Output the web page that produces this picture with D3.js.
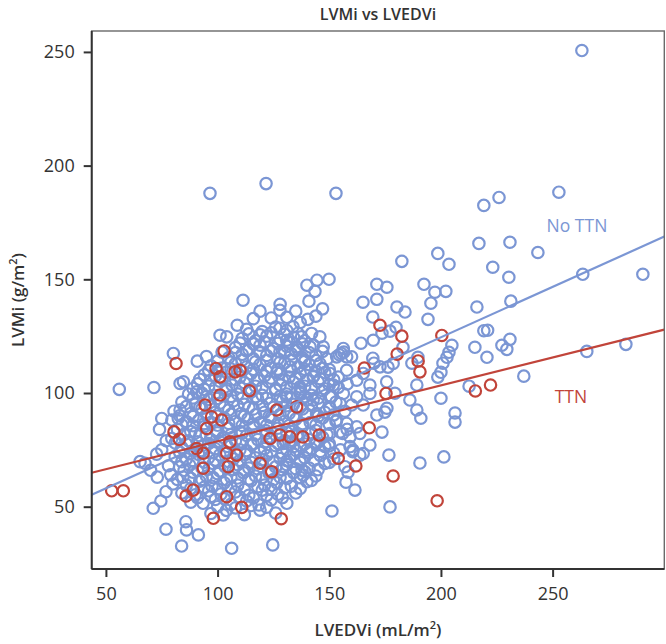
<!DOCTYPE html>
<html><head><meta charset="utf-8">
<script src="https://cdn.jsdelivr.net/npm/d3@7"></script>
<style>body{margin:0;background:#fff}svg{display:block}</style>
</head><body><svg id="c" width="666" height="644"></svg>
<script>
const xTicks = [50, 100, 150, 200, 250];
const yTicks = [50, 100, 150, 200, 250];
const groups = ["No TTN", "TTN"];

// No TTN (blue) points: [LVEDVi, LVMi]
const noTtnOuter = [
[263.1,250.6],[96.6,187.8],[121.7,192.1],[153.0,187.8],[252.8,188.3],[226.0,186.0],[219.2,182.5],[217.0,165.8],[198.6,161.4],[203.6,156.6],
[182.5,157.9],[149.9,150.0],[144.5,149.6],[140.0,147.4],[143.6,144.7],[140.9,140.4],[171.3,147.8],[175.8,146.5],[171.3,141.2],[165.1,139.9],
[192.4,147.8],[197.3,144.3],[202.2,144.7],[195.5,139.5],[180.3,137.8],[183.9,135.6],[169.5,133.4],[194.2,132.4],[216.1,137.8],[144.0,133.8],
[140.4,132.4],[131.0,133.3],[179.9,128.9],[177.2,127.2],[173.6,126.3],[164.2,121.9],[183.0,120.1],[204.9,121.0],[203.6,117.9],[202.7,115.7],
[200.9,113.1],[200.0,109.1],[198.6,107.0],[215.2,120.1],[189.7,115.7],[187.0,113.1],[176.3,111.4],[169.5,115.3],[170.0,113.1],[189.2,103.5],
[212.6,103.0],[230.9,166.3],[243.4,161.8],[223.2,155.3],[230.4,150.9],[263.5,152.2],[290.4,152.2],[231.3,140.4],[220.9,127.6],[219.2,127.4],
[230.9,123.6],[227.3,121.0],[229.5,119.2],[220.6,115.7],[265.3,118.3],[282.8,121.4],[237.1,107.4],
[179.4,99.9],[186.1,96.9],[189.2,92.5],[191.0,88.9],[200.0,97.7],[206.3,91.2],[206.3,87.2],[173.6,82.8],[174.9,91.6],
[175.8,93.3],[171.3,90.3],[168.2,77.1],[163.7,72.7],[160.6,74.9],[158.4,65.2],[157.5,60.8],[161.5,57.3],[176.7,72.7],[190.6,69.2],
[201.3,71.9],[177.2,49.9],[151.2,48.1],[149.9,76.7],[137.8,66.1],[138.3,63.9]
];
const noTtnLeft = [
[56.0,101.6],[71.5,102.4],[80.2,117.4],[90.9,114.0],[101.1,125.4],[104.1,124.7],[108.8,129.8],[116.0,132.7],[111.4,140.8],[75.0,88.8],
[79.5,88.1],[82.4,88.8],[83.2,92.5],[83.2,104.2],[84.7,104.9],[90.6,100.5],[67.5,69.1],[72.7,73.1],[65.3,69.8],[76.9,56.6],
[71.2,49.3],[74.6,52.5],[76.9,40.1],[83.9,32.7],[85.8,43.4],[86.1,39.8],[91.4,37.6],[106.3,31.7],[124.7,33.2],[102.5,46.4],
[73,63],[70,66],[78,68],[75,75],[77,79],[74,84]
];
const noTtnMid = [
[127.9,136.4],[127.9,128.5],[133.8,129.1],[130.9,123.2],[137.6,124.7],[142.1,126.2],[145.8,124.7],[147.3,120.3],[141.4,120.3],[135.4,120.3],
[127.9,118.1],[139.1,114.4],[145.8,113.0],[132.4,111.5],[127.9,108.6],[142.8,107.1],[150.3,108.6],[157.8,110.0],[162.3,105.6],[151.8,103.5],
[136.9,102.7],[155.5,117.4],[154.5,116.8],[156.5,118.0],[153.3,115.9],[157.8,115.9],[156.3,119.6],[160.0,115.9],[169.7,123.2],[178.6,113.0],
[172.7,111.5],[175.7,104.9],[168.2,103.5],[165.2,108.6],
[130.9,98.3],[136.9,99.8],[142.8,96.9],[150.3,98.3],[156.3,99.8],[162.3,98.3],[168.2,99.8],[154.8,95.4],[160.0,94.7],[165.2,94.7],
[150.3,93.2],[144.3,91.0],[153.3,88.1],[157.8,86.6],[162.3,85.1],[163.7,82.2],[159.3,80.7],[154.8,82.9],[150.3,82.2],[144.3,77.8],
[139.9,74.9],[133.9,76.4],[129.4,77.8],[132.4,72.0],[136.9,70.5],[129.4,67.6],[159.3,76.4],[160.5,74.2],[157.0,67.6],[165.2,73.4]
];
const noTtnCore = [
[97,47],[104,48.4],[112,46.5],[119,48.5],[126,47.2],
[88,52],[93.5,51.5],[99,53.2],[106,51],[113,52.5],[118.5,50.8],[124,53],[131,51.5],
[84,56],[90,55.2],[96,57],[101.5,55.5],[108,56.5],[114,55],[120,57.3],[127,55.5],[135,56],
[80,60],[86,59.5],[92,61.2],[97.5,59],[103,60.5],[109,59.5],[115,61.4],[121,59.5],[126.5,60.5],[133,59],[140,61],
[79,64],[84.5,63],[89,65.2],[95,63.5],[100,64.5],[106,63],[111.5,65],[117,63.5],[123,64.8],[128,63],[134,65],[144,63.5],
[83,67.5],[87.5,68.3],[93,67],[98,69],[103.5,67.5],[109,68.5],[114,67],[120,69.2],[126,67.5],[131,68.5],[141,67],[148,69],
[81,72],[86,71],[91.5,73],[96,71.5],[101,72.8],[107,71],[112.5,73],[117,71.5],[122,72.5],[128,71.2],[134,73],[139,71.5],[146,72.5],[152,71],
[84,76],[89.5,75],[94,77.2],[99,75.5],[104.5,76.5],[110,75],[115,77.3],[121,75.5],[126,76.8],[131,75],[137,77],[142,75.5],[148,76.5],[155,75],
[79.5,80],[87,79],[92,81.2],[97,79.5],[102.5,80.5],[108,79],[113,81.3],[118,79.5],[124,80.5],[130,79],[135.5,81],[141,79.5],[147,80.5],
[82,84],[88,83],[94,85.2],[99.5,83.5],[105,84.5],[110,83],[116,85],[121.5,83.5],[127,84.5],[133,83],[138,85.3],[144,83.5],[158,84],
[86,87.5],[91.5,88],[97,87],[103,89],[108,87.5],[113.5,88.5],[119,87],[124,89.2],[130,87.5],[135,88.5],[141.5,87],[147,89],[153,87.5],
[80.5,92],[88,91],[93,93.2],[99,91.5],[105,92.5],[110.5,91],[116,93],[121,91.5],[127,92.8],[132,91],[138,93],[148,91.5],[157,92],
[84,96],[90,95],[96,97.2],[101,95.5],[107,96.5],[112,95],[118,97.3],[123.5,95.5],[129,96.5],[134,95],[140,97],[145,95.5],[153,96],
[87,99.5],[93,100],[98.5,99],[104,101],[109,99.5],[115,100.5],[120,99],[126,101.2],[131,99.5],[137,100.5],[142,99],[147,101],
[91,104],[96,103],[101,105.2],[106.5,103.5],[112,104.5],[117,103],[123,105],[128,103.5],[134,104.8],[139,103],[145,105],[150,103.5],[158,104],
[94,108],[99,107.5],[104,109.2],[110,107],[115,108.5],[121,107.5],[126.5,109],[132,107],[137,108.5],[143,107.5],[148,109],[154,107],
[97,112],[102,111],[108,113],[113,111.5],[119,112.5],[124,111],[130,113.2],[136,111.5],[141,112.5],[147,111],
[95,116],[105,115.5],[111,117],[116,115],[122,116.5],[127,115],[133,117.2],[138,115.5],[144,116.5],[149,115],
[108,120],[114,119],[119,121],[125,119.5],[131,120.5],[136,119],[143,121],
[111,124],[117,123],[122,125],[128,123.5],[134,124.5],[139,123],
[113,128],[120,127],[126,129],[131,127.5],
[119,136],[124,133],[128,139],[135,136],[137,131],[147,137]
];
const noTtnCore2 = [
[100,50],[108,49.5],[115,50.5],[122,49.8],
[91,54],[97,54.5],[103,53.5],[110,54.2],[116,53.8],[122,55],[129,54],
[88,58],[94,58.5],[100,57.8],[106,58.6],[112,57.5],[118,58.8],[124,57.6],[130,58.3],[137,58],
[82,62],[88,62.5],[93,62],[98,62.8],[104,61.8],[109,62.6],[114,62.2],[120,62.8],[125,61.9],[131,62.4],[137,62.8],[142,61.5],
[85,66],[91,65.8],[96,66.5],[101,65.7],[107,66.4],[112,66],[118,66.6],[123,65.8],[129,66.2],[135,66.7],[139,65.5],[145,66.3],
[84,69.8],[89,70.3],[94,69.6],[99,70.5],[105,69.8],[110,70.4],[115,69.5],[120,70.6],[125,69.7],[131,70.2],[137,69.5],[143,70.3],[150,69.5],
[83,74],[88,73.5],[93,74.6],[98,73.8],[103,74.5],[108,73.6],[113,74.7],[119,73.9],[124,74.4],[129,73.6],[135,74.7],[141,73.8],[146,74.3],[152,73.6],
[81,78],[86,77.6],[91,78.5],[96,77.8],[101,78.6],[106,77.5],[111,78.4],[116,77.7],[122,78.6],[127,77.8],[133,78.5],[139,77.6],[144,78.4],[150,77.8],
[85,81.8],[90,82.4],[95,81.6],[100,82.5],[106,81.7],[111,82.4],[117,81.6],[122,82.3],[128,81.8],[131,82.6],[136,81.9],[142,82.5],[149,81.7],[156,82.2],
[84,86],[89,85.6],[94,86.5],[100,85.8],[105,86.6],[111,85.7],[116,86.4],[122,85.8],[127,86.6],[132,85.7],[138,86.5],[144,85.9],[150,86.3],
[83,90],[89,89.6],[95,90.5],[100,89.8],[106,90.6],[112,89.7],[117,90.4],[123,89.6],[128,90.5],[134,89.8],[140,90.6],[145,89.7],[152,90.4],
[86,94],[92,93.6],[97,94.5],[103,93.8],[109,94.4],[114,93.6],[120,94.5],[125,93.7],[131,94.4],[137,93.6],[142,94.5],[150,93.9],
[89,97.8],[95,98.4],[100,97.6],[106,98.5],[111,97.7],[117,98.4],[122,97.6],[128,98.5],[133,97.8],[139,98.4],[145,97.7],[151,98.4],
[89,102],[94,101.6],[99,102.5],[104,101.8],[110,102.6],[115,101.7],[120,102.4],[126,101.8],[131,102.6],[137,101.7],[142,102.4],[148,101.9],[154,102.5],
[92,106],[97,105.6],[102,106.5],[108,105.8],[113,106.4],[118,105.6],[124,106.5],[129,105.7],[135,106.4],[140,105.6],[146,106.3],[152,105.8],
[96,110],[100,109.6],[106,110.5],[111,109.7],[116,110.4],[122,109.6],[127,110.5],[133,109.8],[139,110.4],[144,109.6],[150,110.3],
[100,114],[106,113.6],[111,114.5],[117,113.7],[122,114.4],[128,113.6],[133,114.5],[139,113.8],[144,114.3],
[102,118],[108,117.8],[113,118.5],[119,117.7],[124,118.4],[130,117.6],[135,118.5],[141,117.8],[147,118.3],
[110,122],[116,121.6],[121,122.5],[127,121.8],[132,122.4],[138,121.6],
[114,126],[119,125.6],[124,126.5],[130,125.8],[136,126.3]
];
const ttnPts = [
[52.6,57.0],[57.8,57.0],[80.5,82.9],[81.4,113.0],[82.9,79.6],[85.9,54.7],[89.1,57.3],[90.6,75.6],[93.6,66.9],[93.6,73.5],
[94.4,94.7],[95.1,84.4],[97.3,89.5],[98.1,44.9],[99.3,110.8],[101.1,99.1],[101.1,107.1],[101.8,88.1],[102.9,118.5],[104.1,54.4],
[104.1,73.5],[104.8,67.6],[105.5,78.5],[107.8,109.3],[110.0,110.0],[108.5,72.7],[110.8,49.7],[114.2,101.0],[119.0,69.1],[124.2,65.4],
[123.5,80.0],[126.4,92.5],[127.9,81.5],[128.5,44.7],[132.4,80.7],[135.4,93.9],[138.2,80.7],[145.5,81.5],[154.0,71.3],[161.9,67.9],
[165.7,111.0],[167.9,84.7],[172.7,129.8],[175.4,99.8],[178.6,63.5],[180.4,117.1],[182.5,125.0],[189.8,114.1],[190.6,109.3],[198.3,52.6],
[200.4,125.3],[215.4,100.9],[222.2,103.5]
];
// fitted regression lines: LVMi = intercept + slope * LVEDVi
const fitIntercepts = [35.9, 54.2];
const fitSlopes = [0.443, 0.2455];
const labelPos = [[260.9, 171.0], [258.2, 95.8]]; // label anchor (centre, baseline) in data units
const colors = ["#7b96d4", "#c1443a"];

const W = 666, H = 644;
const L = 91.7, R = 664.3, T = 31, B = 569;
const x = d3.scaleLinear().domain([43.64, 300]).range([L, R]);
const y = d3.scaleLinear().domain([22.6, 259.2]).range([B, T]);
const svg = d3.select("#c");
const font = "'Open Sans', 'Noto Sans', sans-serif";

svg.append("clipPath").attr("id", "clp").append("rect")
  .attr("x", L).attr("y", T).attr("width", R - L).attr("height", B - T);

const pg = svg.append("g").attr("clip-path", "url(#clp)");
const noTtn = noTtnOuter.concat(noTtnLeft, noTtnMid, noTtnCore, noTtnCore2);
pg.selectAll("circle.b").data(noTtn).join("circle").attr("class", "b")
  .attr("cx", d => x(d[0])).attr("cy", d => y(d[1])).attr("r", 5.7)
  .attr("fill", "none").attr("stroke", colors[0]).attr("stroke-width", 2.2);
pg.selectAll("circle.r").data(ttnPts).join("circle").attr("class", "r")
  .attr("cx", d => x(d[0])).attr("cy", d => y(d[1])).attr("r", 5.7)
  .attr("fill", "none").attr("stroke", colors[1]).attr("stroke-width", 2.2);

const xd = x.domain();
pg.selectAll("line.fit").data(groups).join("line").attr("class", "fit")
  .attr("x1", x(xd[0])).attr("x2", x(xd[1]))
  .attr("y1", (g, i) => y(fitIntercepts[i] + fitSlopes[i] * xd[0]))
  .attr("y2", (g, i) => y(fitIntercepts[i] + fitSlopes[i] * xd[1]))
  .attr("stroke", (g, i) => colors[i]).attr("stroke-width", 2.2);

svg.selectAll("text.lab").data(groups).join("text").attr("class", "lab")
  .attr("x", (g, i) => x(labelPos[i][0])).attr("y", (g, i) => y(labelPos[i][1]))
  .attr("text-anchor", "middle").attr("font-family", font).attr("font-size", 17.5)
  .attr("font-weight", 500)
  .attr("fill", (g, i) => colors[i]).text(g => g);

// frame
svg.append("rect").attr("x", L).attr("y", T).attr("width", R - L).attr("height", B - T)
  .attr("fill", "none").attr("stroke", "#6a6a6a").attr("stroke-width", 1.4);

const xAxis = svg.append("g").attr("transform", `translate(0,${B})`)
  .call(d3.axisBottom(x).tickValues(xTicks).tickSize(8).tickSizeOuter(0).tickPadding(10));
const yAxis = svg.append("g").attr("transform", `translate(${L},0)`)
  .call(d3.axisLeft(y).tickValues(yTicks).tickSize(8).tickSizeOuter(0).tickPadding(9));
[xAxis, yAxis].forEach(a => {
  a.select(".domain").attr("stroke", "#333").attr("stroke-width", 2);
  a.selectAll(".tick line").attr("stroke", "#333").attr("stroke-width", 2);
  a.selectAll(".tick text").attr("font-family", font).attr("font-size", 18).attr("fill", "#333");
});
xAxis.select(".domain").attr("d", `M${L},0H${R}`);
yAxis.select(".domain").attr("d", `M0,${T}V${B}`);

svg.append("text").attr("x", (L + R) / 2).attr("y", 20).attr("text-anchor", "middle")
  .attr("font-family", font).attr("font-size", 16).attr("font-weight", 600).attr("fill", "#333")
  .text("LVMi vs LVEDVi");

const xt = svg.append("text").attr("x", (L + R) / 2).attr("y", 636).attr("text-anchor", "middle")
  .attr("font-family", font).attr("font-size", 17).attr("font-weight", 600).attr("fill", "#333");
xt.append("tspan").text("LVEDVi (mL/m");
xt.append("tspan").attr("font-size", 11).attr("dy", -7).text("2");
xt.append("tspan").attr("dy", 7).text(")");

const yt = svg.append("text").attr("transform", `translate(24,${(T + B) / 2}) rotate(-90)`)
  .attr("text-anchor", "middle")
  .attr("font-family", font).attr("font-size", 17).attr("font-weight", 600).attr("fill", "#333");
yt.append("tspan").text("LVMi (g/m");
yt.append("tspan").attr("font-size", 11).attr("dy", -7).text("2");
yt.append("tspan").attr("dy", 7).text(")");
</script>
</body></html>
